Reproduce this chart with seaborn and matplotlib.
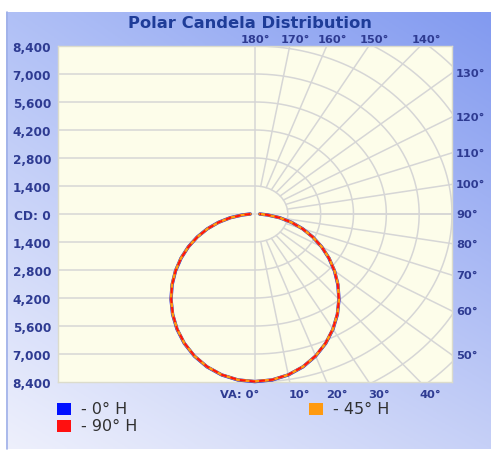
import numpy as np
import pandas as pd
import matplotlib
matplotlib.use('Agg')
import matplotlib.pyplot as plt
import seaborn as sns
from matplotlib.patches import Rectangle
from matplotlib.lines import Line2D

# vertical angles (deg) and candela values
va_deg = [0, 5, 10, 15, 20, 25, 30, 35, 40, 45, 50, 55, 60, 65, 70, 75, 80, 85, 90]
cd_0h = [8380, 8330, 8170, 7910, 7560, 7135, 6650, 6125, 5570, 5000, 4425, 3850, 3280, 2715, 2160, 1610, 1070, 535, 200]
cd_45h = [8370, 8325, 8165, 7905, 7555, 7130, 6645, 6120, 5570, 5005, 4430, 3855, 3280, 2710, 2155, 1605, 1065, 530, 195]
cd_90h = [8375, 8320, 8160, 7900, 7550, 7120, 6640, 6115, 5565, 4995, 4420, 3845, 3275, 2710, 2150, 1605, 1065, 530, 200]

planes = ['0° H', '45° H', '90° H']
plane_cd = {'0° H': cd_0h, '45° H': cd_45h, '90° H': cd_90h}
plane_colors = {'0° H': '#0010ff', '45° H': '#ff9a10', '90° H': '#ff1010'}

cd_ticks = [-8400, -7000, -5600, -4200, -2800, -1400, 0, 1400, 2800, 4200, 5600, 7000, 8400]
top_angles = [180, 170, 160, 150, 140]
right_angles = [130, 120, 110, 100, 90, 80, 70, 60, 50]
bottom_angles = [0, 10, 20, 30, 40]

LIM = 8400
NAVY = '#2e3b92'
GRID = '#d6d6d6'

# build the long table for seaborn (both halves of each plane)
rows = []
for name in planes:
    ang = np.radians(np.array([-a for a in va_deg[::-1]] + va_deg[1:], dtype=float))
    cd = np.array(plane_cd[name][::-1] + plane_cd[name][1:], dtype=float)
    for i, (a, c) in enumerate(zip(ang, cd)):
        rows.append({'plane': name, 'order': i, 'x': c * np.sin(a), 'y': -c * np.cos(a)})
df = pd.DataFrame(rows)

sns.set_style('white')
plt.rcParams['font.family'] = ['DejaVu Sans']

fig = plt.figure(figsize=(4.91, 4.52), dpi=100)

# blue gradient panel behind everything
bg = fig.add_axes([6 / 491, 2 / 452, 485 / 491, 437 / 452], zorder=-5)
tl = np.array([176, 192, 246]) / 255
tr = np.array([130, 154, 240]) / 255
bl = np.array([238, 240, 252]) / 255
br = np.array([198, 208, 247]) / 255
u = np.linspace(0, 1, 200)[None, :, None]
v = np.linspace(0, 1, 200)[:, None, None]
grad = (1 - v) * ((1 - u) * tl + u * tr) + v * ((1 - u) * bl + u * br)
bg.imshow(grad, aspect='auto', extent=[0, 1, 0, 1])
bg.axis('off')
fig.add_artist(Line2D([6.5 / 491, 6.5 / 491], [2 / 452, 439 / 452], transform=fig.transFigure,
                      color='#9fb0e8', lw=1.2))

ax = fig.add_axes([58 / 491, 69 / 452, 394 / 491, 336 / 452])
ax.set_facecolor('#fdfdea')
ax.set_xlim(-LIM, LIM)
ax.set_ylim(-LIM, LIM)

# cartesian grid on the left half
for y in cd_ticks[1:-1]:
    x_end = LIM if y == 0 else 0
    ax.plot([-LIM, x_end], [y, y], color=GRID, lw=1.1, zorder=1)
ax.plot([0, 0], [-LIM, LIM], color=GRID, lw=1.1, zorder=1)

# polar grid on the right half
t = np.linspace(0, np.pi, 300)
for r in range(1400, 12601, 1400):
    ax.plot(r * np.sin(t), -r * np.cos(t), color=GRID, lw=1.1, zorder=1)
for a in range(10, 180, 10):
    ar = np.radians(a)
    ax.plot([1400 * np.sin(ar), 14000 * np.sin(ar)], [-1400 * np.cos(ar), -14000 * np.cos(ar)],
            color=GRID, lw=1.1, zorder=1)

# candela curves
styles = {'0° H': dict(lw=2.4), '45° H': dict(lw=2.0), '90° H': dict(lw=1.4, dashes=(3, 2))}
for name in planes:
    sub = df[df['plane'] == name]
    sns.lineplot(data=sub, x='x', y='y', sort=False, estimator=None, color=plane_colors[name],
                 legend=False, ax=ax, clip_on=False, zorder=3, **styles[name])

ax.set_xlabel('')
ax.set_ylabel('')
ax.set_xticks([])
ax.set_yticks(cd_ticks)
ax.set_yticklabels(['CD: 0' if v == 0 else f'{abs(v):,}' for v in cd_ticks])
ax.tick_params(axis='y', length=0, pad=5, labelsize=8.7, labelcolor=NAVY)
for lab in ax.get_yticklabels():
    lab.set_fontweight('bold')
for s in ax.spines.values():
    s.set_color('#dcdccc')
    s.set_linewidth(1)

lab_kw = dict(fontsize=8.2, fontweight='bold', color=NAVY, textcoords='offset pixels', annotation_clip=False)
for a in top_angles:
    x = LIM * np.tan(np.radians(180 - a))
    ax.annotate(f'{a}°', xy=(x, 1), xycoords=('data', 'axes fraction'),
                xytext=(0 if a == 180 else 6, 7), ha='center', va='center', **lab_kw)
for a in right_angles:
    y = -LIM / np.tan(np.radians(a))
    ax.annotate(f'{a}°', xy=(1, y), xycoords=('axes fraction', 'data'),
                xytext=(4, 0), ha='left', va='center', **lab_kw)
for a in bottom_angles:
    x = LIM * np.tan(np.radians(a))
    if a == 0:
        ax.annotate('VA: 0°', xy=(x, 0), xycoords=('data', 'axes fraction'),
                    xytext=(4, -12), ha='right', va='center', **lab_kw)
    else:
        ax.annotate(f'{a}°', xy=(x, 0), xycoords=('data', 'axes fraction'),
                    xytext=(10, -12), ha='center', va='center', **lab_kw)

fig.text(250 / 491, 1 - 23 / 452, 'Polar Candela Distribution', ha='center', va='center',
         fontsize=11.8, fontweight='bold', color='#1e3c98')

# legend
legend_pos = {'0° H': (57, 410), '90° H': (57, 427), '45° H': (309, 410)}
for name, (lx, ly) in legend_pos.items():
    fig.add_artist(Rectangle((lx / 491, 1 - (ly + 6) / 452), 14 / 491, 12 / 452,
                             transform=fig.transFigure, color=plane_colors[name], lw=0))
    fig.text((lx + 24) / 491, 1 - ly / 452, f'- {name}', ha='left', va='center',
             fontsize=11.5, color='#303030')

fig.savefig('out.png', dpi=100)
